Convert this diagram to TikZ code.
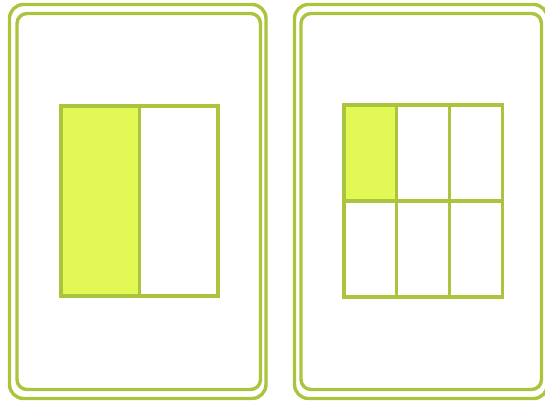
\documentclass[tikz,border=0pt]{standalone}
\usepackage{tikz}
\usetikzlibrary{positioning}
\definecolor{cardgreen}{RGB}{170,196,62}
\definecolor{partfill}{RGB}{226,248,84}

\begin{document}
\begin{tikzpicture}[x=1pt, y=-1pt,
    frame/.style={draw=cardgreen, line width=3.4pt, rounded corners=14pt},
    half/.style={draw=cardgreen, line width=3.2pt, inner sep=0pt, outer sep=0pt,
                 anchor=north west, minimum width=78.5pt, minimum height=190pt},
    sixth/.style={draw=cardgreen, line width=3.2pt, inner sep=0pt, outer sep=0pt,
                  anchor=north west, minimum width=52.7pt, minimum height=96pt}]
  \useasboundingbox (0,0) rectangle (545,401);
  % left card: one half shaded
  \draw[frame] (9.5,4.5) rectangle (266,398.5);
  \draw[frame, rounded corners=10pt] (17,13.5) rectangle (260.5,389.5);
  \node[half, fill=partfill] (h1) at (61,106) {};
  \node[half] (h2) at (h1.north east) {};
  % right card: one sixth shaded
  \draw[frame] (294.5,4.5) rectangle (547.5,398.5);
  \draw[frame, rounded corners=10pt] (301,13.5) rectangle (541.5,389.5);
  \foreach \r in {0,1}
    \foreach \c in {0,1,2}
      \node[sixth] (s\r\c) at (344+\c*52.7, 105+\r*96) {};
  \node[sixth, fill=partfill] (s00) at (344,105) {};
\end{tikzpicture}
\end{document}
